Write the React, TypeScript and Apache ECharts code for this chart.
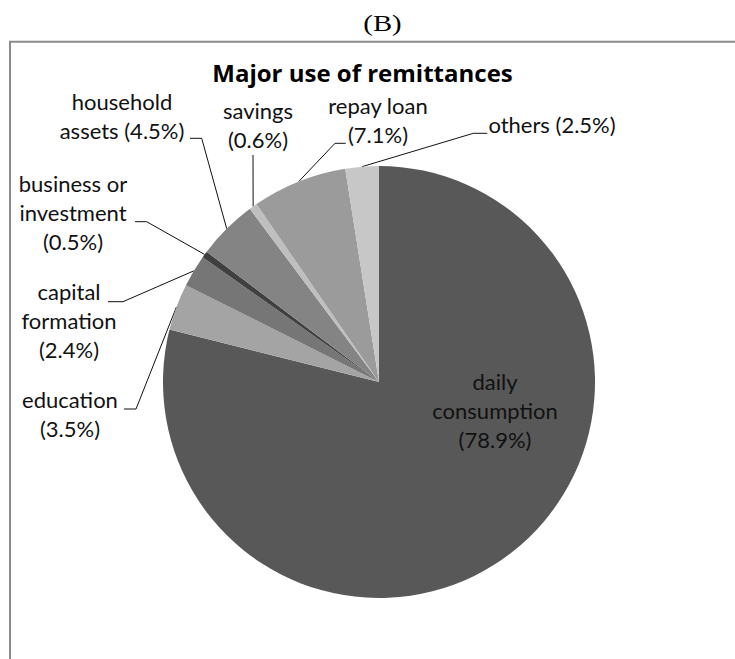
import React, { useEffect, useRef } from "react";
import * as echarts from "echarts";

const categories = [
  "daily consumption",
  "education",
  "capital formation",
  "business or investment",
  "household assets",
  "savings",
  "repay loan",
  "others",
];
const values = [78.9, 3.5, 2.4, 0.5, 4.5, 0.6, 7.1, 2.5];
const labelNames = [
  "daily\nconsumption\n",
  "education\n",
  "capital\nformation\n",
  "business or\ninvestment\n",
  "household\nassets ",
  "savings\n",
  "repay loan\n",
  "others ",
];
const colors = ["#585858", "#a4a4a4", "#767676", "#404040", "#848484", "#bfbfbf", "#9b9b9b", "#c7c7c7"];

// label block centres and leader-line elbows (layout only)
const labelPos: [number, number][] = [
  [495, 410.5],
  [70, 414],
  [69, 320.5],
  [73, 212.5],
  [122, 115.8],
  [258, 124.5],
  [378, 120],
  [552, 124.5],
];
const leaderElbow: ([number, number] | null)[] = [
  null,
  [136, 409],
  [123, 301.7],
  [146.7, 221.7],
  [201.7, 138.3],
  [253, 156],
  [335, 143.3],
  [473.3, 133.3],
];
const leaderEnd: ([number, number] | null)[] = [
  null,
  [124, 409],
  [108, 301.7],
  [135, 221.7],
  [190, 138.3],
  [253, 155],
  [345.7, 143.3],
  [487.3, 133.3],
];

const CX = 379;
const CY = 382;
const R = 216;

export default function App() {
  const ref = useRef<HTMLDivElement>(null);
  useEffect(() => {
    if (!ref.current) return;
    const chart = echarts.init(ref.current, undefined, { renderer: "svg" });
    const total = values.reduce((a, b) => a + b, 0);
    const anchors: [number, number][] = [];
    let cum = 0;
    values.forEach((v) => {
      const mid = ((cum + v / 2) / total) * Math.PI * 2;
      anchors.push([CX + R * Math.sin(mid), CY - R * Math.cos(mid)]);
      cum += v;
    });
    chart.setOption({
      animation: false,
      backgroundColor: "#ffffff",
      graphic: [
        {
          type: "rect",
          shape: { x: 10, y: 41.7, width: 760, height: 700 },
          style: { fill: "none", stroke: "#8c8c8c", lineWidth: 2 },
        },
        {
          type: "text",
          x: 382.5,
          y: 23.5,
          scaleX: 1.25,
          style: {
            text: "(B)",
            font: '23px "Liberation Serif"',
            fill: "#000",
            align: "center",
            verticalAlign: "middle",
          },
        },
        {
          type: "text",
          x: 362.5,
          y: 72.5,
          style: {
            text: "Major use of remittances",
            font: 'bold 24px "Open Sans"',
            fill: "#000",
            align: "center",
            verticalAlign: "middle",
          },
        },
      ],
      series: [
        {
          type: "pie",
          center: [CX, CY],
          radius: R,
          startAngle: 90,
          clockwise: true,
          avoidLabelOverlap: false,
          itemStyle: { borderWidth: 0 },
          label: {
            show: true,
            position: "outside",
            fontFamily: "Lato",
            fontSize: 22,
            lineHeight: 29,
            color: "#111",
            align: "center",
            formatter: (p: any) => labelNames[p.dataIndex] + "(" + p.value.toFixed(1) + "%)",
          },
          labelLine: {
            show: true,
            length: 20,
            length2: 10,
            lineStyle: { color: "#111", width: 1 },
          },
          labelLayout: (params: any) => {
            const i = params.dataIndex;
            const out: any = {
              x: labelPos[i][0],
              y: labelPos[i][1],
              align: "center",
              verticalAlign: "middle",
            };
            if (leaderElbow[i] && leaderEnd[i]) {
              const a =
                params.labelLinePoints && params.labelLinePoints[0]
                  ? params.labelLinePoints[0]
                  : anchors[i];
              out.labelLinePoints = [a, leaderElbow[i], leaderEnd[i]];
            }
            return out;
          },
          data: categories.map((name, i) => ({
            name,
            value: values[i],
            itemStyle: { color: colors[i] },
            ...(i === 0 ? { labelLine: { show: false } } : {}),
          })),
        },
      ],
    });
    return () => chart.dispose();
  }, []);
  return (
    <div
      ref={ref}
      style={{ position: "fixed", left: 0, top: 0, width: 735, height: 659 }}
    />
  );
}
